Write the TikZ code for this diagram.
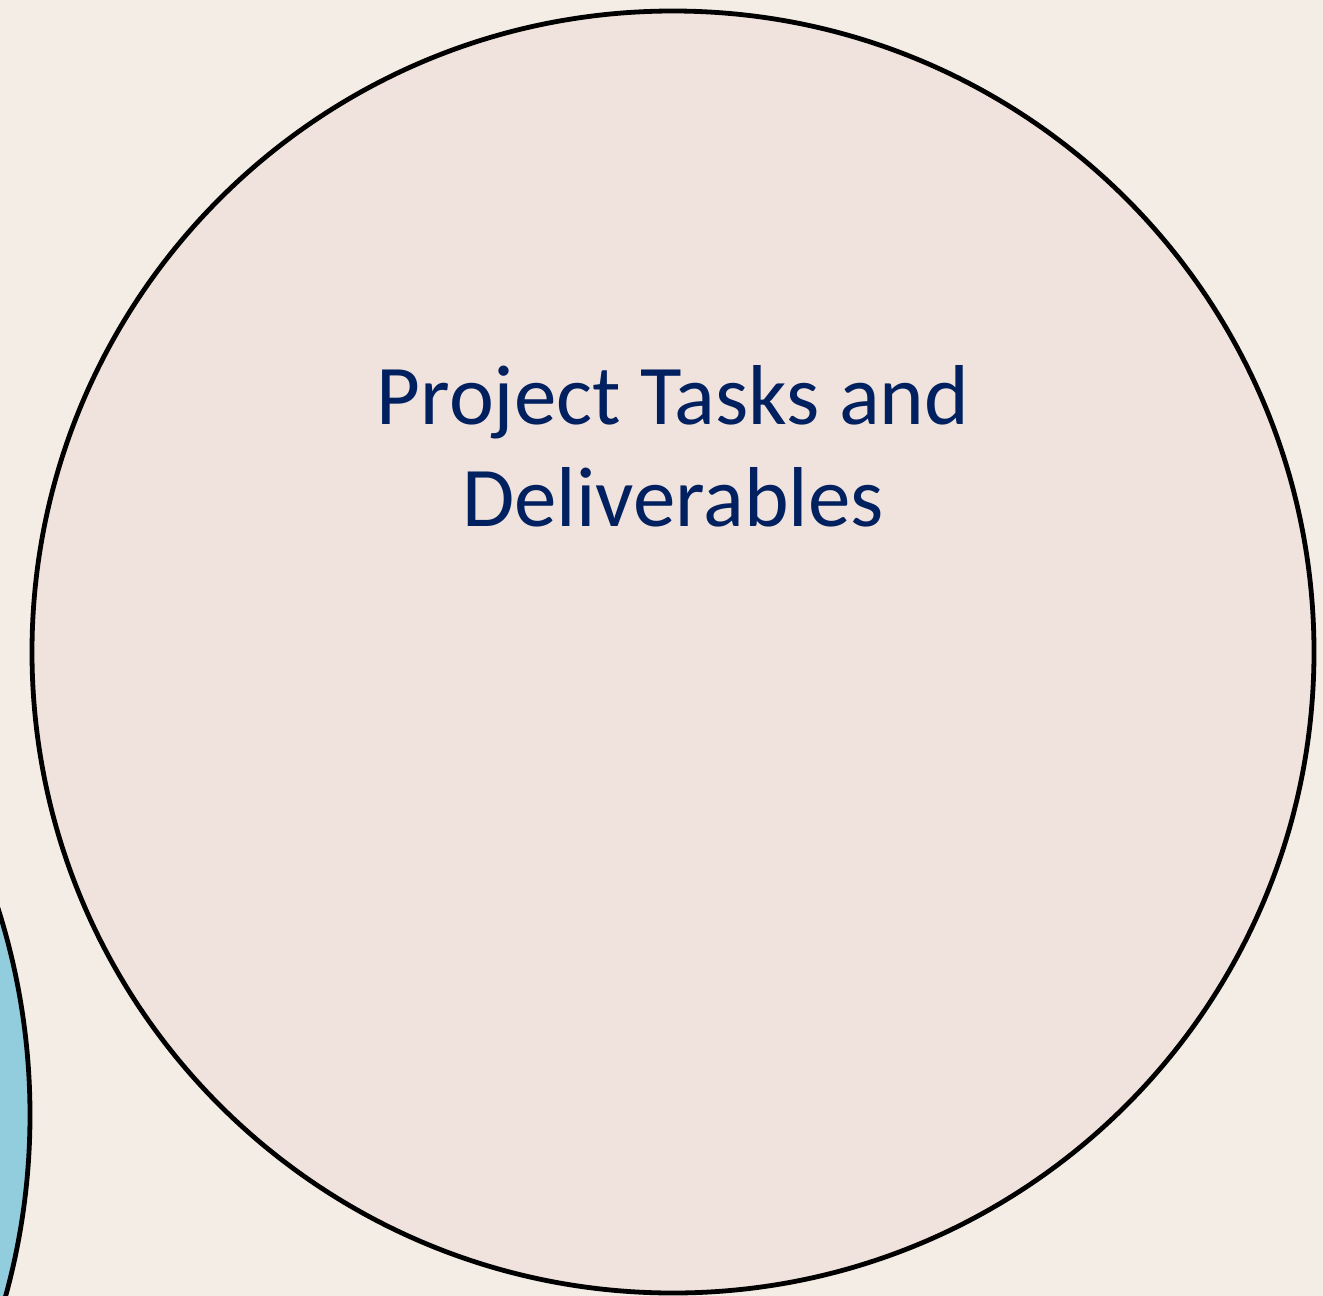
\documentclass[tikz,border=0pt]{standalone}
\usepackage{fontspec}
\setmainfont{Carlito}
\definecolor{bgc}{HTML}{F4EDE6}
\definecolor{bigc}{HTML}{F0E2DC}
\definecolor{bluec}{HTML}{92CDDD}
\definecolor{txtc}{HTML}{002060}
\begin{document}
\begin{tikzpicture}[x=1pt,y=-1pt,
  circ/.style={draw=black,line width=4.8pt}]
\fill[bgc] (0,0) rectangle (1323,1296);
\useasboundingbox (0,0) rectangle (1323,1296);
\begin{scope}
\clip (0,0) rectangle (1323,1296);
\fill[bluec,circ] (-650,1115) circle (680);
\end{scope}
\fill[bigc,circ] (673,652) circle (641);
\node[text=txtc,font=\fontsize{85}{102}\selectfont,align=center,anchor=base] (t) at (673,526) {Project Tasks and\\Deliverables};
\end{tikzpicture}
\end{document}
